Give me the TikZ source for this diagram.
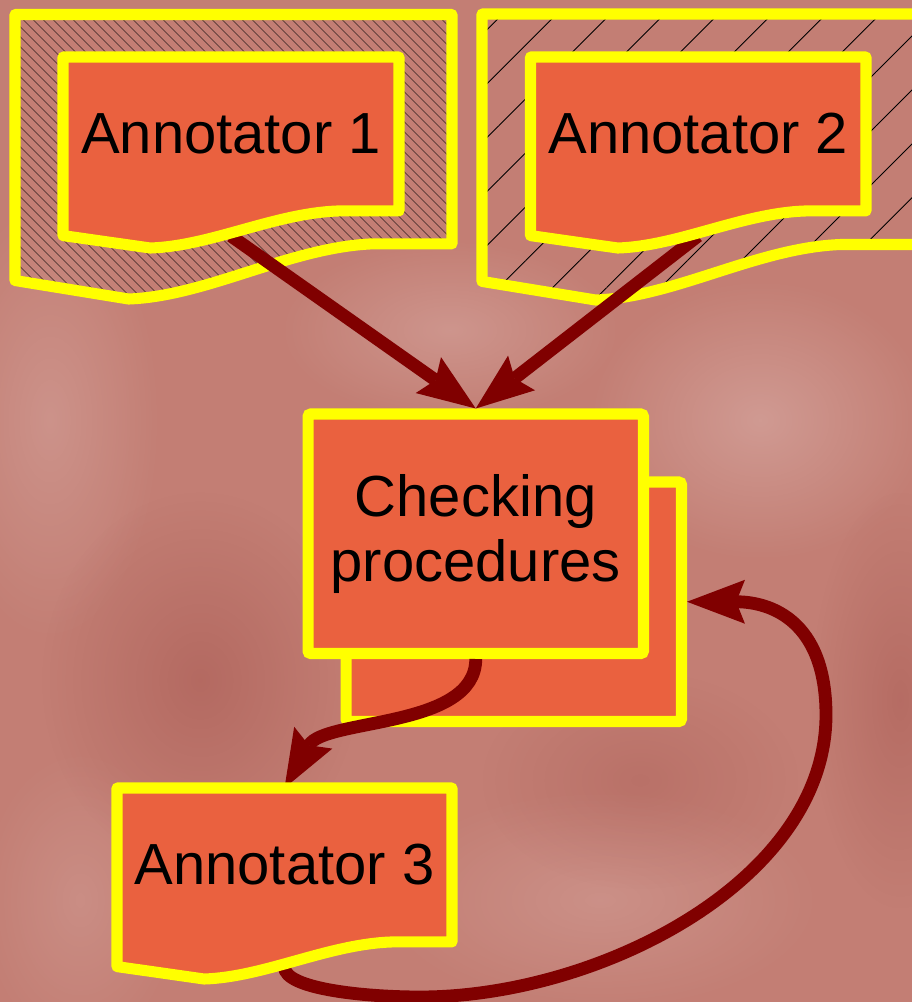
\documentclass[tikz,border=0pt]{standalone}
\usepackage{fontspec}
\setmainfont{Liberation Sans}
\usetikzlibrary{arrows.meta,patterns.meta,fadings}

\definecolor{paper}{RGB}{195,126,116}
\definecolor{boxfill}{RGB}{234,97,63}
\definecolor{rimyellow}{RGB}{255,255,0}
\definecolor{linkred}{RGB}{128,0,0}

\tikzfading[name=softspot, inner color=transparent!0, outer color=transparent!100]

\pgfdeclarelayer{bg}
\pgfdeclarelayer{links}
\pgfsetlayers{bg,links,main}

% document outline: #2,#3 top-left corner, #4 width, #5 depth down to the lowest point of the wave
\newcommand\docoutline[5][]{%
  \path[#1] (#2,#3) -- ({#2+#4},#3) -- ({#2+#4},{#3+0.806*#5})
    -- ({#2+0.82*#4},{#3+0.806*#5})
    .. controls ({#2+0.63*#4},{#3+0.817*#5}) and ({#2+0.44*#4},{#3+0.99*#5}) .. ({#2+0.26*#4},{#3+#5})
    -- (#2,{#3+0.935*#5}) -- cycle;}

\tikzset{
  rimline/.style={draw=rimyellow, line width=6.3pt, line join=round},
  docfill/.style={rimline, fill=boxfill},
  doclabel/.style={inner sep=0pt, outer sep=0pt, minimum width=6.72cm, minimum height=3.08cm,
    font=\fontsize{33}{37}\selectfont},
  card/.style={rectangle, rounded corners=1.5pt, fill=boxfill, draw=rimyellow, line width=6.3pt,
    minimum width=6.71cm, minimum height=4.79cm, inner sep=0pt, align=center,
    font=\fontsize{33}{37}\selectfont},
  linkline/.style={draw=linkred, line width=7.3pt,
    -{Stealth[length=33pt,width=25pt,inset=5pt,line width=0pt]}},
  blob/.style={opacity=#1, path fading=softspot}
}

\begin{document}
\begin{tikzpicture}[x=0.02cm, y=-0.02cm]
\useasboundingbox (0,0) rectangle (912,1002);

\begin{pgfonlayer}{bg}
  % mottled paper
  \fill[paper] (0,0) rectangle (912,1002);
  \fill[white, blob=0.22] (760,420) ellipse (3.4cm and 2.8cm);
  \fill[white, blob=0.18] (450,330) ellipse (3.4cm and 1.8cm);
  \fill[white, blob=0.16] (50,420) ellipse (2.2cm and 4.4cm);
  \fill[white, blob=0.14] (600,900) ellipse (4.4cm and 2.2cm);
  \fill[white, blob=0.12] (80,900) ellipse (2cm and 3cm);
  \fill[black!60!red, blob=0.16] (200,680) ellipse (3.2cm and 3.8cm);
  \fill[black!60!red, blob=0.14] (900,700) ellipse (1.8cm and 4.2cm);
  \fill[black!60!red, blob=0.10] (640,780) ellipse (3.2cm and 2.2cm);

  % hatched outer sheets
  \docoutline[rimline, pattern={Lines[angle=-45,distance=4pt,line width=0.35pt]}, pattern color=black]{15}{14.5}{437}{284.5}
  \docoutline[rimline, pattern={Lines[angle=45,distance=21.7pt,line width=0.5pt]}, pattern color=black]{482}{14}{437}{286}

  % stacked card
  \node[card] (chkcopy) at (513.75,601.75) {};
  \node[card] (chk) at (475.75,533.75) {Checking\\procedures};
\end{pgfonlayer}

% annotator sheets
\docoutline[docfill]{63}{57}{336}{191}
\node[doclabel] (a1) at (231,134) {Annotator 1};
\docoutline[docfill]{530.5}{57}{335.5}{191}
\node[doclabel] (a2) at (698.25,134) {Annotator 2};
\docoutline[docfill]{117}{788}{335}{191}
\node[doclabel] (a3) at (284.5,865) {Annotator 3};

\coordinate (a1tail) at (231,236);
\coordinate (a2tail) at (698,236);
\coordinate (a3tail) at (284.5,967);
\coordinate (loopbottom) at (420,997);
\coordinate (loopside) at (826,715);

\begin{pgfonlayer}{links}
  \draw[linkline] (a1tail) -- (chk.north);
  \draw[linkline] (a2tail) -- (chk.north);
  \draw[linkline] (chk.south) .. controls +(0,70) and +(40,-70) .. (a3.north);
  \draw[linkline] (a3tail) .. controls +(0,22) and +(-55,0) .. (loopbottom)
    .. controls +(180,0) and +(0,165) .. (loopside)
    .. controls +(0,-95) and +(83,0) .. (chkcopy.east);
\end{pgfonlayer}
\end{tikzpicture}
\end{document}
